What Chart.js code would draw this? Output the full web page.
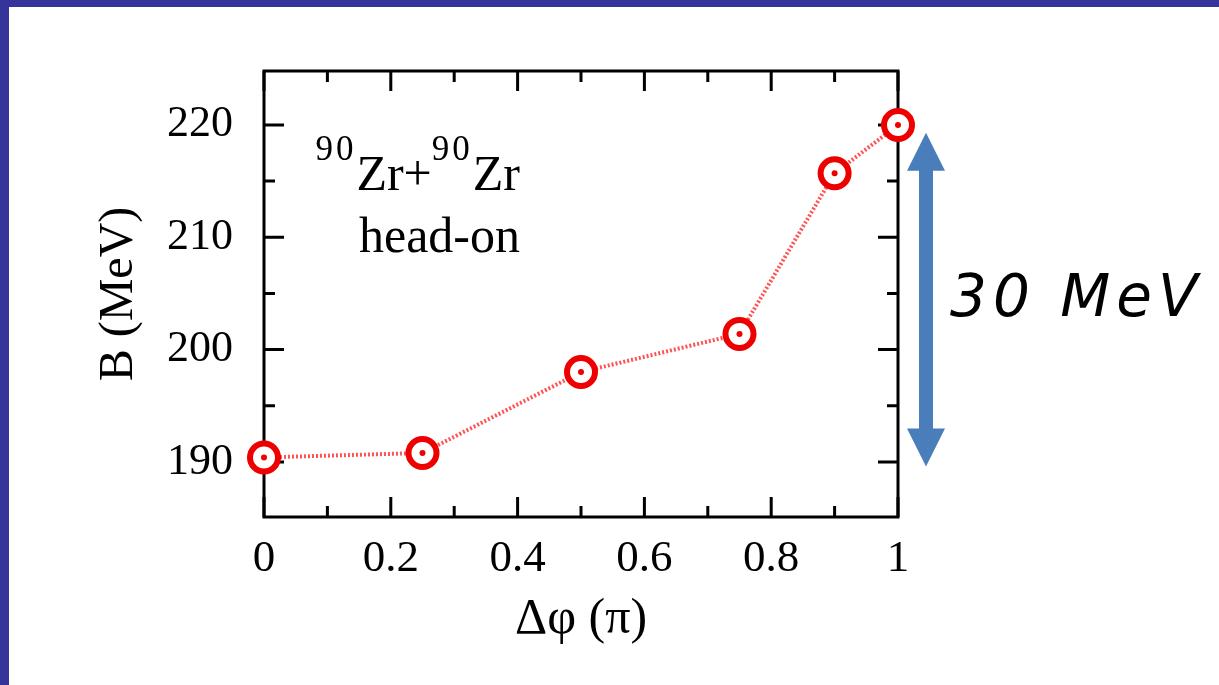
<!DOCTYPE html>
<html>
<head>
<meta charset="utf-8">
<script src="https://cdn.jsdelivr.net/npm/chart.js@4.4.0/dist/chart.umd.min.js"></script>
<style>
  html, body { margin: 0; padding: 0; background: #fff; }
  body { width: 1219px; height: 685px; position: relative; overflow: hidden; }
  .bar { position: absolute; background: #36339a; }
  #barTop { left: 0; top: 0; width: 1219px; height: 7px; }
  #barLeft { left: 0; top: 0; width: 9px; height: 685px; }
  canvas { position: absolute; left: 0; top: 0; }
  .note { position: absolute; right: 699px; font-family: "Liberation Serif", serif; font-size: 50px; line-height: 50px; color: #000; white-space: nowrap; }
  .note .iso { font-size: 35px; position: relative; top: -30px; line-height: 0; letter-spacing: 3px; }
  #line1 { top: 148px; }
  #line2 { top: 210px; }
  #span { position: absolute; left: 950px; top: 264px; font-family: "Comic Sans MS", "DejaVu Sans", sans-serif; font-style: italic; font-size: 58px; line-height: 64px; letter-spacing: 6px; color: #000; white-space: nowrap; }
</style>
</head>
<body>
<div class="bar" id="barTop"></div>
<div class="bar" id="barLeft"></div>
<canvas id="chart" width="1219" height="685"></canvas>
<div class="note" id="line1"><span class="iso">90</span>Zr+<span class="iso">90</span>Zr</div>
<div class="note" id="line2">head-on</div>
<div id="span">30 MeV</div>
<script>
// data
const xValues = [0, 0.25, 0.5, 0.75, 0.9, 1];
const bValues = [190.4, 190.8, 198.0, 201.4, 215.7, 220.0];

const xTicks = [0, 0.2, 0.4, 0.6, 0.8, 1];
const xMinorTicks = [0.1, 0.3, 0.5, 0.7, 0.9];
const yTicks = [190, 200, 210, 220];
const yMinorTicks = [195, 205, 215];
const xRange = [0, 1];
const yRange = [185.1, 224.8];
const arrowRange = [189.6, 219.3];

const points = xValues.map((x, i) => ({ x: x, y: bValues[i] }));

const serif = 'Liberation Serif';
const red = '#ee0000';
const arrowBlue = '#4a7ebb';

// box around the plot with inward ticks on all four sides, plus the 30 MeV arrow
const framePlugin = {
    id: 'frame',
    beforeDatasetsDraw(chart) {
        const { ctx, chartArea: a, scales: { x, y } } = chart;
        ctx.save();
        ctx.strokeStyle = '#000';
        ctx.lineWidth = 3;
        ctx.strokeRect(a.left, a.top, a.right - a.left, a.bottom - a.top);
        ctx.beginPath();
        const xTick = (v, len) => {
            const px = x.getPixelForValue(v);
            ctx.moveTo(px, a.bottom); ctx.lineTo(px, a.bottom - len);
            ctx.moveTo(px, a.top); ctx.lineTo(px, a.top + len);
        };
        const yTick = (v, len) => {
            const py = y.getPixelForValue(v);
            ctx.moveTo(a.left, py); ctx.lineTo(a.left + len, py);
            ctx.moveTo(a.right, py); ctx.lineTo(a.right - len, py);
        };
        xTicks.forEach(v => xTick(v, 20));
        xMinorTicks.forEach(v => xTick(v, 11));
        yTicks.forEach(v => yTick(v, 20));
        yMinorTicks.forEach(v => yTick(v, 11));
        ctx.stroke();
        ctx.restore();
    },
    afterDraw(chart) {
        const { ctx, chartArea: a, scales: { y } } = chart;
        const cx = a.right + 28;
        const top = y.getPixelForValue(arrowRange[1]);
        const bottom = y.getPixelForValue(arrowRange[0]);
        const headH = 38, headW = 19, shaftW = 7;
        ctx.save();
        ctx.fillStyle = arrowBlue;
        ctx.fillRect(cx - shaftW, top + headH - 1, shaftW * 2, bottom - top - headH * 2 + 2);
        ctx.beginPath();
        ctx.moveTo(cx, top);
        ctx.lineTo(cx + headW, top + headH);
        ctx.lineTo(cx - headW, top + headH);
        ctx.closePath();
        ctx.moveTo(cx, bottom);
        ctx.lineTo(cx + headW, bottom - headH);
        ctx.lineTo(cx - headW, bottom - headH);
        ctx.closePath();
        ctx.fill();
        ctx.restore();
    }
};

new Chart(document.getElementById('chart').getContext('2d'), {
    type: 'scatter',
    data: {
        datasets: [{
            label: 'B',
            data: points,
            showLine: true,
            borderColor: 'rgba(255, 40, 40, 0.8)',
            borderWidth: 4,
            borderDash: [2, 2],
            pointRadius: 14,
            pointBorderWidth: 6,
            pointBorderColor: red,
            pointBackgroundColor: '#fff',
            clip: false,
            order: 1
        }, {
            label: 'centre',
            data: points,
            showLine: false,
            pointRadius: 3,
            pointBorderWidth: 0,
            pointBackgroundColor: red,
            clip: false,
            order: 0
        }]
    },
    options: {
        responsive: false,
        animation: false,
        devicePixelRatio: 1,
        layout: { padding: { left: 0, top: 71, right: 321, bottom: 0 } },
        plugins: {
            legend: { display: false },
            tooltip: { enabled: false }
        },
        scales: {
            x: {
                type: 'linear',
                min: xRange[0],
                max: xRange[1],
                afterFit(scale) { scale.height = 168; },
                afterBuildTicks(scale) { scale.ticks = xTicks.map(v => ({ value: v })); },
                grid: { display: false, drawTicks: false },
                border: { display: false },
                ticks: {
                    color: '#000',
                    font: { family: serif, size: 45 },
                    padding: 15,
                    maxRotation: 0,
                    autoSkip: false,
                    callback: v => String(v)
                },
                title: {
                    display: true,
                    text: 'Δφ (π)',
                    color: '#000',
                    font: { family: serif, size: 50 },
                    padding: { top: 0, bottom: 35 }
                }
            },
            y: {
                type: 'linear',
                min: yRange[0],
                max: yRange[1],
                afterFit(scale) { scale.width = 264; },
                afterBuildTicks(scale) { scale.ticks = yTicks.map(v => ({ value: v })); },
                grid: { display: false, drawTicks: false },
                border: { display: false },
                ticks: {
                    color: '#000',
                    font: { family: serif, size: 44 },
                    padding: 31,
                    autoSkip: false,
                    callback: v => String(v)
                },
                title: {
                    display: true,
                    text: 'B (MeV)',
                    color: '#000',
                    font: { family: serif, size: 48 },
                    padding: { top: 91, bottom: 0 }
                }
            }
        }
    },
    plugins: [framePlugin]
});
</script>
</body>
</html>
